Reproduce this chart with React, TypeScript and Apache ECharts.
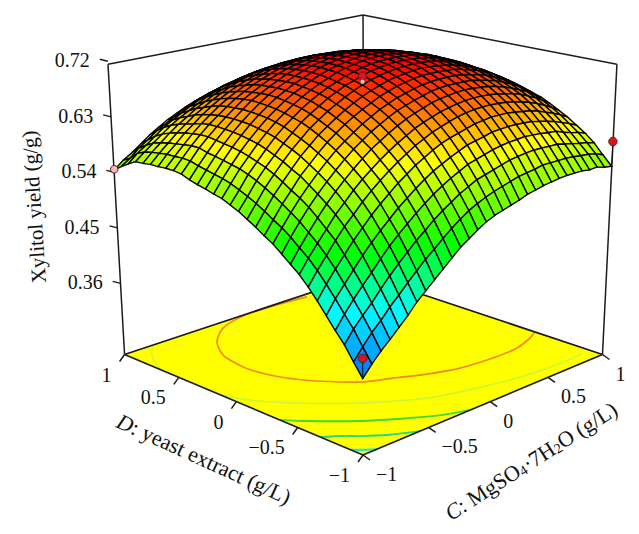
import React, { useEffect, useRef } from "react";
import * as echarts from "echarts";

// Surface heights in thousandths of g/g. Rows: C from -1 to 1, columns: D from -1 to 1.
const surfaceRows: number[][] = [
[354,373,393,409,426,443,459,473,484,495,506,514,523,531,539,545,551,554,558,561,565,570,572,572,571,571,569,568,561,553,544],
[370,390,411,428,446,463,479,493,504,516,526,534,543,551,558,564,570,574,577,580,583,587,588,587,587,585,583,580,574,563,556],
[384,406,426,445,463,481,497,511,523,535,545,554,563,571,578,584,589,592,595,598,600,604,604,602,600,598,595,591,584,576,565],
[396,419,440,461,480,498,515,528,541,553,563,571,580,588,595,600,605,609,612,614,616,618,618,616,614,611,607,602,595,586,576],
[409,434,456,476,497,515,532,546,558,569,579,589,596,604,610,616,621,624,627,629,630,631,631,629,625,622,618,613,606,597,587],
[422,447,471,492,512,530,546,560,573,584,594,603,612,619,625,631,635,638,641,642,643,643,642,640,637,633,627,622,615,605,596],
[437,461,485,507,526,545,561,575,587,598,608,617,625,632,638,644,648,651,653,654,655,654,653,651,647,642,637,630,623,614,605],
[449,474,498,520,539,558,574,588,600,611,621,630,638,645,651,655,659,662,664,665,666,665,663,660,656,651,645,638,631,622,612],
[461,487,511,532,552,570,586,599,612,623,632,641,648,655,661,666,669,672,674,675,674,673,671,668,664,659,653,646,638,629,619],
[473,498,522,544,563,582,597,610,623,633,642,651,658,665,670,675,678,681,682,683,682,681,679,675,671,666,659,652,644,635,625],
[485,510,534,555,574,592,607,620,632,643,652,660,667,673,679,683,686,688,690,690,689,688,685,682,677,672,665,658,649,640,629],
[497,521,544,565,584,602,616,629,641,651,660,668,675,681,686,690,693,695,696,696,696,694,691,687,682,677,670,662,654,644,633],
[506,531,553,574,593,610,625,637,649,659,668,675,682,688,693,696,699,701,702,702,701,699,696,692,687,681,674,666,657,647,636],
[515,540,562,582,600,618,632,645,656,666,674,682,688,694,698,702,705,706,707,707,705,703,700,695,690,684,677,669,660,650,639],
[523,547,569,589,607,625,639,651,662,671,680,687,693,699,703,706,709,710,711,710,709,706,703,698,693,686,679,671,661,651,640],
[529,553,576,596,613,630,644,656,667,676,684,692,698,703,707,710,712,713,714,713,711,708,705,700,694,688,680,672,662,652,640],
[533,558,580,600,619,634,649,661,672,680,688,695,701,706,710,713,715,716,716,715,713,710,706,701,695,688,680,672,662,651,639],
[537,562,584,604,622,638,653,664,675,684,691,698,703,708,712,714,716,717,717,716,713,710,706,701,695,688,680,671,661,650,638],
[541,566,588,608,625,642,656,667,677,686,693,700,705,709,713,715,717,717,717,716,713,710,705,700,694,687,678,669,659,648,635],
[546,570,592,611,629,644,658,669,679,687,694,700,706,710,713,715,717,717,716,715,712,708,704,698,692,684,676,666,656,644,632],
[549,572,594,613,630,646,659,670,680,687,694,700,705,709,712,714,715,716,715,713,710,706,701,696,689,681,672,663,652,640,628],
[552,574,596,614,631,646,659,670,679,687,694,699,704,708,711,713,713,713,712,710,707,703,698,692,685,677,668,658,647,635,623],
[554,577,597,615,631,646,658,669,678,686,692,698,702,706,708,710,711,710,709,707,703,699,694,687,680,672,663,653,642,630,617],
[556,577,597,614,630,644,657,667,676,683,689,695,699,702,705,706,706,706,704,702,698,694,688,682,674,666,657,646,635,623,609],
[557,577,596,613,629,642,654,664,673,680,686,691,695,698,700,702,702,701,699,696,693,688,682,676,668,659,650,639,628,615,602],
[557,577,596,611,626,640,651,661,669,676,682,687,690,693,695,696,696,695,693,690,686,681,675,668,660,652,642,631,619,607,593],
[557,576,593,610,623,636,647,657,664,671,676,681,685,687,689,690,689,688,686,683,679,673,667,660,652,643,633,622,610,597,583],
[555,574,590,605,619,631,642,651,658,665,670,675,678,680,682,682,682,680,678,675,670,665,658,651,643,633,623,612,600,587,572],
[556,573,587,601,614,626,636,645,652,658,663,667,670,673,674,674,673,672,669,666,661,655,649,641,633,623,613,601,589,575,561],
[552,570,585,598,609,620,629,637,644,650,655,659,662,664,665,665,664,662,659,655,651,645,638,630,621,612,601,589,577,563,548],
[550,565,581,593,603,613,621,629,636,641,646,650,653,654,655,655,654,652,649,645,639,633,626,618,609,599,588,577,564,550,535],
];

const yieldTicks = [0.36, 0.45, 0.54, 0.63, 0.72];
const factorTicks = [-1, -0.5, 0, 0.5, 1];
const factorTickLabels = ["\u22121", "\u22120.5", "0", "0.5", "1"];

// Floor contours, read as [C, D] pairs.
const contourOrange = [[0.444,0.959],[0.18,0.99],[-0.064,0.99],[-0.301,0.919],[-0.48,0.768],[-0.593,0.581],[-0.634,0.358],[-0.606,0.156],[-0.522,-0.034],[-0.313,-0.286],[-0.137,-0.378],[0.045,-0.474],[0.247,-0.547],[0.499,-0.579],[0.722,-0.574],[0.902,-0.522],[0.983,-0.484]];
const contourPaleA = [[-0.796,0.99],[-0.91,0.854],[-1,0.658]];
const contourPaleB = [[-1,0.236],[-0.99,0.124],[-0.931,-0.037],[-0.775,-0.253],[-0.527,-0.501],[-0.211,-0.715],[0.095,-0.817],[0.442,-0.892],[0.833,-0.913],[0.933,-0.899]];
const contourGreenA = [[-1,-0.358],[-0.921,-0.457],[-0.701,-0.677],[-0.479,-0.841],[-0.322,-0.94],[-0.159,-1]];
const contourGreenB = [[-1,-0.677],[-0.905,-0.753],[-0.841,-0.818],[-0.729,-0.911],[-0.569,-1]];
const contourCyan = [[-1,-0.91],[-0.967,-0.945],[-0.9,-1]];

// Design points: C, D, yield, above the surface (1) or below it (0).
const designPoints = [
  [-1, 1, 0.545, 0],
  [1, -1, 0.59, 1],
  [0, 0, 0.696, 1],
  [0, 0, 0.687, 0],
  [-1, -1, 0.383, 1],
];

const Z_MIN = 0.2447;
const Z_MAX = 0.7152;
const FONT = '"Liberation Serif", serif';
const INK = "#1c1c1c";
const TEXT = "#111111";

function project(c: number, d: number, z: number): number[] {
  const a = (c + 1) / 2;
  const b = (d + 1) / 2;
  const h = (z - Z_MIN) / (Z_MAX - Z_MIN);
  const u = a + b;
  return [
    (363 + 319 * a - 222 * b - 26.2 * h) / (1 + 0.132 * u - 0.069 * h),
    (455 - 53.7 * u - 328.5 * h) / (1 + 0.132 * u),
  ];
}

const stops: [number, number[]][] = [
  [0.335, [0, 60, 255]],
  [0.43, [0, 255, 255]],
  [0.5, [0, 255, 0]],
  [0.605, [255, 255, 0]],
  [0.71, [255, 0, 0]],
];

function spectrum(z: number): string {
  if (z <= stops[0][0]) return `rgb(${stops[0][1].join(",")})`;
  for (let i = 1; i < stops.length; i++) {
    if (z <= stops[i][0]) {
      const t = (z - stops[i - 1][0]) / (stops[i][0] - stops[i - 1][0]);
      const p = stops[i - 1][1];
      const q = stops[i][1];
      return `rgb(${Math.round(p[0] + (q[0] - p[0]) * t)},${Math.round(p[1] + (q[1] - p[1]) * t)},${Math.round(p[2] + (q[2] - p[2]) * t)})`;
    }
  }
  return "rgb(255,0,0)";
}

const N = surfaceRows.length - 1;
const axisC = (i: number) => -1 + (2 * i) / N;

function buildCells(): number[][] {
  const cells: number[][] = [];
  for (let i = 0; i < N; i++) for (let j = 0; j < N; j++) cells.push([i, j]);
  cells.sort((p, q) => q[0] + q[1] - (p[0] + p[1]));
  return cells;
}

function buildOption(): any {
  const toPx = (api: any, c: number, d: number, z: number) => api.coord(project(c, d, z));
  const contours = [
    { pts: contourOrange, stroke: "#f08a20", width: 1.7 },
    { pts: contourPaleA, stroke: "#c6f53c", width: 1.2 },
    { pts: contourPaleB, stroke: "#c6f53c", width: 1.4 },
    { pts: contourGreenA, stroke: "#3ed83a", width: 1.8 },
    { pts: contourGreenB, stroke: "#1edc78", width: 1.8 },
    { pts: contourCyan, stroke: "#35dcd8", width: 2.4 },
  ];
  const lineStyle = { stroke: INK, lineWidth: 1.5, fill: null };
  const line3d = (api: any, p: number[], q: number[], width = 1.5) => {
    const s = toPx(api, p[0], p[1], p[2]);
    const e = toPx(api, q[0], q[1], q[2]);
    return { type: "line", shape: { x1: s[0], y1: s[1], x2: e[0], y2: e[1] }, style: { ...lineStyle, lineWidth: width } };
  };
  const common = { type: "custom", coordinateSystem: "cartesian2d", clip: false, silent: true };
  return {
    animation: false,
    backgroundColor: "#ffffff",
    grid: { left: 0, top: 0, width: 639, height: 534 },
    xAxis: { type: "value", min: 0, max: 639, show: false },
    yAxis: { type: "value", min: 0, max: 534, inverse: true, show: false },
    series: [
      {
        ...common,
        z: 1,
        data: [[0]],
        renderItem: (_p: any, api: any) => {
          const floor = [[-1, -1], [1, -1], [1, 1], [-1, 1]].map((q) => toPx(api, q[0], q[1], Z_MIN));
          const children: any[] = [
            { type: "polygon", shape: { points: floor }, style: { fill: "#ffff00", stroke: null } },
          ];
          contours.forEach((k) => {
            children.push({
              type: "polyline",
              shape: { points: k.pts.map((q) => toPx(api, q[0], q[1], Z_MIN)), smooth: 0.25 },
              style: { stroke: k.stroke, lineWidth: k.width, fill: null },
            });
          });
          [[[-1, -1], [1, -1]], [[-1, -1], [-1, 1]], [[-1, 1], [1, 1]], [[1, -1], [1, 1]]].forEach((e) => {
            children.push(line3d(api, [e[0][0], e[0][1], Z_MIN], [e[1][0], e[1][1], Z_MIN], 1.7));
          });
          [[-1, 1], [1, -1], [1, 1]].forEach((q) => {
            children.push(line3d(api, [q[0], q[1], Z_MIN], [q[0], q[1], Z_MAX]));
          });
          children.push(line3d(api, [-1, 1, Z_MAX], [1, 1, Z_MAX]));
          children.push(line3d(api, [1, 1, Z_MAX], [1, -1, Z_MAX]));
          return { type: "group", children };
        },
      },
      {
        ...common,
        z: 2,
        data: yieldTicks,
        renderItem: (p: any, api: any) => {
          const v = yieldTicks[p.dataIndex];
          const s = toPx(api, -1, 1, v);
          return {
            type: "group",
            children: [
              { type: "line", shape: { x1: s[0], y1: s[1], x2: s[0] - 8, y2: s[1] - 2 }, style: { stroke: INK, lineWidth: 1.5 } },
              { type: "text", style: { text: v.toFixed(2), x: s[0] - 18, y: s[1] - 1, align: "right", verticalAlign: "middle", font: `20px ${FONT}`, fill: TEXT } },
            ],
          };
        },
      },
      {
        ...common,
        z: 2,
        data: factorTicks,
        renderItem: (p: any, api: any) => {
          const v = factorTicks[p.dataIndex];
          const t = factorTickLabels[p.dataIndex];
          const dp = toPx(api, -1, v, Z_MIN);
          const cp = toPx(api, v, -1, Z_MIN);
          const tk = { stroke: INK, lineWidth: 1.5 };
          return {
            type: "group",
            children: [
              { type: "line", shape: { x1: dp[0], y1: dp[1], x2: dp[0] - 5, y2: dp[1] + 7 }, style: tk },
              { type: "line", shape: { x1: cp[0], y1: cp[1], x2: cp[0] + 7, y2: cp[1] + 5 }, style: tk },
              { type: "text", style: { text: t, x: dp[0] - 13, y: dp[1] + 20, align: "right", verticalAlign: "middle", font: `20px ${FONT}`, fill: TEXT } },
              { type: "text", style: { text: t, x: cp[0] + 13, y: cp[1] + 19, align: "left", verticalAlign: "middle", font: `20px ${FONT}`, fill: TEXT } },
            ],
          };
        },
      },
      {
        ...common,
        z: 3,
        data: buildCells(),
        renderItem: (_p: any, api: any) => {
          const i = api.value(0);
          const j = api.value(1);
          const corners = [[i, j], [i + 1, j], [i + 1, j + 1], [i, j + 1]];
          let sum = 0;
          const points = corners.map((q) => {
            const z = surfaceRows[q[0]][q[1]] / 1000;
            sum += z;
            return toPx(api, axisC(q[0]), axisC(q[1]), z);
          });
          return {
            type: "polygon",
            shape: { points },
            style: { fill: spectrum(sum / 4), stroke: "#030303", lineWidth: 1.4 },
          };
        },
      },
      {
        ...common,
        z: 4,
        data: designPoints,
        renderItem: (p: any, api: any) => {
          const dpt = designPoints[p.dataIndex];
          const s = toPx(api, dpt[0], dpt[1], dpt[2]);
          const above = dpt[3] === 1;
          const children: any[] = [];
          if (above) {
            const i = Math.round(((dpt[0] + 1) * N) / 2);
            const j = Math.round(((dpt[1] + 1) * N) / 2);
            const e = toPx(api, dpt[0], dpt[1], surfaceRows[i][j] / 1000);
            if (dpt[2] > surfaceRows[i][j] / 1000) {
              children.push({ type: "line", shape: { x1: s[0], y1: s[1], x2: e[0], y2: e[1] }, style: { stroke: "#111", lineWidth: 1 } });
            }
          }
          const inner = !above && dpt[0] === 0;
          children.push({
            type: "circle",
            shape: { cx: s[0], cy: s[1], r: inner ? 2.4 : above ? 4.2 : 3.8 },
            style: { fill: above ? "#e0101c" : "#f3b8c0", stroke: inner ? "#444" : "#5a1a1a", lineWidth: inner ? 0.6 : 1 },
          });
          return { type: "group", children };
        },
      },
    ],
    graphic: [
      {
        type: "text",
        x: 34,
        y: 207,
        rotation: (93.7 * Math.PI) / 180,
        style: { text: "Xylitol yield (g/g)", align: "center", verticalAlign: "middle", font: `21px ${FONT}`, fill: TEXT },
      },
      {
        type: "text",
        x: 204,
        y: 459,
        rotation: (-24.5 * Math.PI) / 180,
        style: {
          text: "{i|D}: yeast extract (g/L)",
          align: "center",
          verticalAlign: "middle",
          font: `22px ${FONT}`,
          fill: TEXT,
          rich: { i: { font: `italic 22px ${FONT}`, fill: TEXT } },
        },
      },
      {
        type: "text",
        x: 531,
        y: 461,
        rotation: (32.6 * Math.PI) / 180,
        style: {
          text: "{i|C}: MgSO{s|4}\u00b77H{s|2}O (g/L)",
          align: "center",
          verticalAlign: "middle",
          font: `22px ${FONT}`,
          fill: TEXT,
          rich: {
            i: { font: `italic 22px ${FONT}`, fill: TEXT },
            s: { font: `14px ${FONT}`, fill: TEXT, verticalAlign: "bottom", padding: [8, 0, 0, 0] },
          },
        },
      },
    ],
  };
}

export default function App() {
  const ref = useRef<HTMLDivElement>(null);
  useEffect(() => {
    const chart = echarts.init(ref.current!, undefined, { renderer: "svg" });
    chart.setOption(buildOption());
    return () => chart.dispose();
  }, []);
  return <div ref={ref} style={{ position: "fixed", left: 0, top: 0, width: 639, height: 534 }} />;
}
